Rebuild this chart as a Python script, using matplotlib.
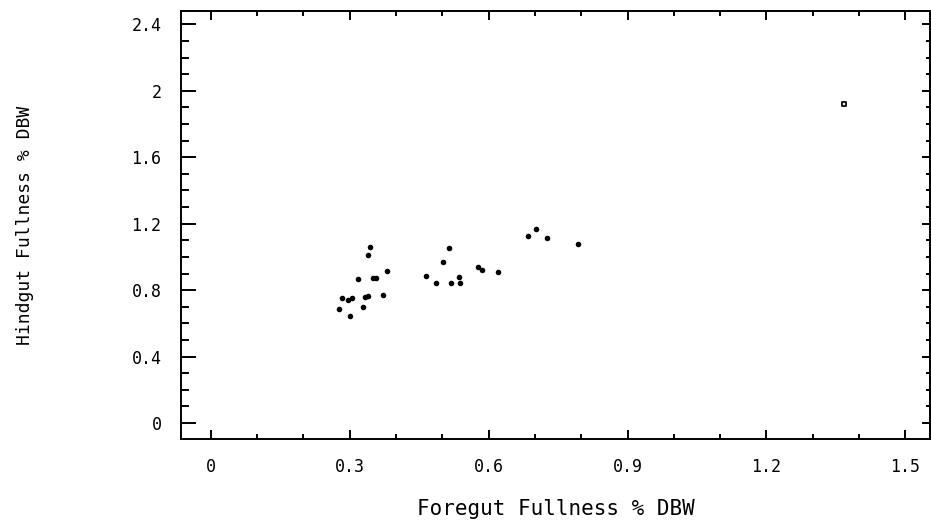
import matplotlib
matplotlib.use('Agg')
import matplotlib.pyplot as plt
from matplotlib.ticker import MultipleLocator

# ── Data ─────────────────────────────────────────────────────────────────────
foregut = [0.345, 0.339, 0.380, 0.319, 0.350, 0.356, 0.283, 0.297, 0.305,
           0.333, 0.339, 0.373, 0.277, 0.330, 0.300,
           0.464, 0.487, 0.515, 0.501, 0.520, 0.538, 0.537, 0.578, 0.585,
           0.620, 0.686, 0.702, 0.727, 0.794]
hindgut = [1.058, 1.012, 0.918, 0.867, 0.871, 0.871, 0.751, 0.741, 0.755,
           0.757, 0.765, 0.771, 0.687, 0.701, 0.645,
           0.886, 0.842, 1.052, 0.970, 0.842, 0.842, 0.878, 0.938, 0.922,
           0.911, 1.128, 1.167, 1.112, 1.078]
outlier_x = [1.367]
outlier_y = [1.920]

x_ticks = [0, 0.3, 0.6, 0.9, 1.2, 1.5]
x_ticklabels = ['0', '0.3', '0.6', '0.9', '1.2', '1.5']
y_ticks = [0, 0.4, 0.8, 1.2, 1.6, 2.0, 2.4]
y_ticklabels = ['0', '0.4', '0.8', '1.2', '1.6', '2', '2.4']

plt.rcParams['font.family'] = ['DejaVu Sans Mono']

fig = plt.figure(figsize=(9.31, 5.21), dpi=100)
ax = fig.add_axes([0.1944, 0.1574, 0.8045, 0.8215])

ax.scatter(foregut, hindgut, marker='o', s=16, color='black', linewidths=0)
ax.scatter(outlier_x, outlier_y, marker='s', s=12, facecolor='white',
           edgecolor='black', linewidths=1.3)

ax.set_xlim(-0.064, 1.553)
ax.set_ylim(-0.096, 2.48)

ax.set_xticks(x_ticks)
ax.set_xticklabels(x_ticklabels)
ax.set_yticks(y_ticks)
ax.set_yticklabels(y_ticklabels)
ax.xaxis.set_minor_locator(MultipleLocator(0.1))
ax.yaxis.set_minor_locator(MultipleLocator(0.1))

for s in ax.spines.values():
    s.set_linewidth(1.4)

ax.tick_params(axis='x', which='both', direction='in', top=True, bottom=True,
               labelsize=12, pad=14, colors='black', width=1.4)
ax.tick_params(axis='x', which='major', length=6.5)
ax.tick_params(axis='x', which='minor', length=3.5)
ax.tick_params(axis='y', which='both', direction='in', left=True, right=False,
               labelsize=12, pad=14, width=1.4)
ax.tick_params(axis='y', which='major', length=11)
ax.tick_params(axis='y', which='minor', length=5.5)

# right side has shorter ticks than the left
sec = ax.secondary_yaxis('right')
sec.set_yticks(y_ticks)
sec.yaxis.set_minor_locator(MultipleLocator(0.1))
sec.tick_params(which='both', direction='in', labelright=False, width=1.4)
sec.tick_params(which='major', length=6)
sec.tick_params(which='minor', length=3)
sec.spines['right'].set_linewidth(1.4)

ax.set_xlabel('Foregut Fullness % DBW', fontsize=15, labelpad=16)
ax.set_ylabel('Hindgut Fullness % DBW', fontsize=13)
ax.yaxis.set_label_coords(-0.196, 0.5)

fig.savefig('out.png', dpi=100)
